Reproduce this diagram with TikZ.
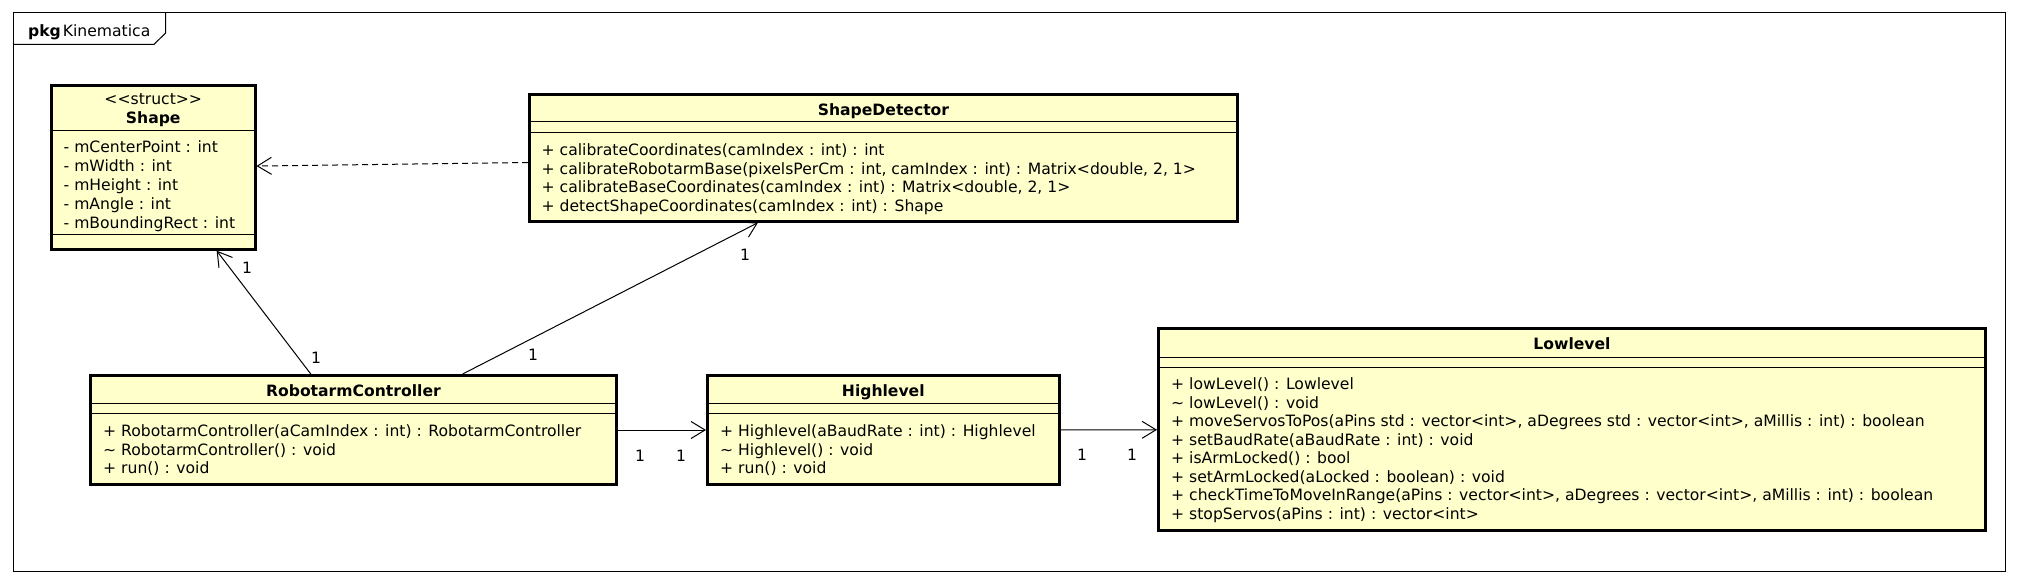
\documentclass[tikz,border=0pt]{standalone}
\usepackage{fontspec}
\setmainfont{DejaVu Sans}
\usetikzlibrary{arrows.meta}
\definecolor{umlfill}{RGB}{255,255,204}
\newcommand\umlsize{\fontsize{15.6pt}{18pt}\selectfont}
\begin{document}
\begin{tikzpicture}[x=1pt,y=-1pt,
  every node/.style={font=\umlsize, inner sep=0pt},
  cls/.style={draw=black, line width=3pt, fill=umlfill, rectangle, inner sep=0pt},
  sepline/.style={line width=1pt, black},
  member/.style={anchor=base west},
  clstitle/.style={anchor=base, font=\umlsize\bfseries},
  stereo/.style={anchor=base},
  mult/.style={anchor=center},
  assoc/.style={line width=1pt, -{Straight Barb[length=14pt,width=17pt]}},
  depend/.style={assoc, dash pattern=on 6pt off 4pt},
  frameline/.style={line width=1pt, black}]
\useasboundingbox (0,0) rectangle (2018,585);
\fill[white] (0,0) rectangle (2018,585);
% package frame
\draw[frameline] (13,13) rectangle (2005,571);
\draw[frameline] (13,44.3) -- (154,44.3) -- (165.7,33) -- (165.7,13);
\node[anchor=base west] (pkglabel) at (28,36.5) {\textbf{pkg}\hspace{2pt}Kinematica};

% Shape
\node[cls, minimum width=203.5pt, minimum height=163.7pt] (shape) at (153.25,167.35) {};
\draw[sepline] (shape.west |- 0,131) -- (shape.east |- 0,131);
\draw[sepline] (shape.west |- 0,235) -- (shape.east |- 0,235);
\node[stereo] (shapeS) at (153.25,104.8) {<\kern0pt<struct>\kern0pt>};
\node[clstitle] (shapeT) at (153.25,123.8) {Shape};
\node[member] (shapeA1) at (63.5,152.5) {- mCenterPoint : int};
\node[member] (shapeA2) at (63.5,171.4) {- mWidth : int};
\node[member] (shapeA3) at (63.5,190.3) {- mHeight : int};
\node[member] (shapeA4) at (63.5,209.2) {- mAngle : int};
\node[member] (shapeA5) at (63.5,228.1) {- mBoundingRect : int};

% ShapeDetector
\node[cls, minimum width=708pt, minimum height=126.4pt] (sd) at (883.5,158) {};
\draw[sepline] (sd.west |- 0,122) -- (sd.east |- 0,122);
\draw[sepline] (sd.west |- 0,133) -- (sd.east |- 0,133);
\node[clstitle] (sdT) at (883.5,115.8) {ShapeDetector};
\node[member] (sdM1) at (541.5,155.8) {+ calibrateCoordinates(camIndex : int) : int};
\node[member] (sdM2) at (541.5,174.3) {+ calibrateRobotarmBase(pixelsPerCm : int, camIndex : int) : Matrix<double, 2, 1>};
\node[member] (sdM3) at (541.5,192.8) {+ calibrateBaseCoordinates(camIndex : int) : Matrix<double, 2, 1>};
\node[member] (sdM4) at (541.5,211.3) {+ detectShapeCoordinates(camIndex : int) : Shape};

% RobotarmController
\node[cls, minimum width=525.3pt, minimum height=109pt] (rc) at (353.45,430) {};
\draw[sepline] (rc.west |- 0,403) -- (rc.east |- 0,403);
\draw[sepline] (rc.west |- 0,413) -- (rc.east |- 0,413);
\node[clstitle] (rcT) at (353.45,396.8) {RobotarmController};
\node[member] (rcM1) at (103,436.5) {+ RobotarmController(aCamIndex : int) : RobotarmController};
\node[member] (rcM2) at (103,455) {\textasciitilde{} RobotarmController() : void};
\node[member] (rcM3) at (103,473.5) {+ run() : void};

% Highlevel
\node[cls, minimum width=351.6pt, minimum height=109pt] (hl) at (883.3,430) {};
\draw[sepline] (hl.west |- 0,403) -- (hl.east |- 0,403);
\draw[sepline] (hl.west |- 0,413) -- (hl.east |- 0,413);
\node[clstitle] (hlT) at (883.3,396.8) {Highlevel};
\node[member] (hlM1) at (720,436.5) {+ Highlevel(aBaudRate : int) : Highlevel};
\node[member] (hlM2) at (720,455) {\textasciitilde{} Highlevel() : void};
\node[member] (hlM3) at (720,473.5) {+ run() : void};

% Lowlevel
\node[cls, minimum width=827pt, minimum height=202pt] (ll) at (1572,429.5) {};
\draw[sepline] (ll.west |- 0,357) -- (ll.east |- 0,357);
\draw[sepline] (ll.west |- 0,367) -- (ll.east |- 0,367);
\node[clstitle] (llT) at (1572,349.3) {Lowlevel};
\node[member] (llM1) at (1171,389.8) {+ lowLevel() : Lowlevel};
\node[member] (llM2) at (1171,408.3) {\textasciitilde{} lowLevel() : void};
\node[member] (llM3) at (1171,426.8) {+ moveServosToPos(aPins std : vector<int>, aDegrees std : vector<int>, aMillis : int) : boolean};
\node[member] (llM4) at (1171,445.3) {+ setBaudRate(aBaudRate : int) : void};
\node[member] (llM5) at (1171,463.8) {+ isArmLocked() : bool};
\node[member] (llM6) at (1171,482.3) {+ setArmLocked(aLocked : boolean) : void};
\node[member] (llM7) at (1171,500.8) {+ checkTimeToMoveInRange(aPins : vector<int>, aDegrees : vector<int>, aMillis : int) : boolean};
\node[member] (llM8) at (1171,519.3) {+ stopServos(aPins : int) : vector<int>};

% connectors
\draw[depend] (sd) -- (shape);
\draw[assoc] (rc) -- (shape);
\draw[assoc] (rc) -- (sd);
\draw[assoc] (rc) -- (hl);
\draw[assoc] (hl) -- (ll);

% multiplicities
\node[mult] (m1) at (247,268) {1};
\node[mult] (m2) at (316,358) {1};
\node[mult] (m3) at (745,255) {1};
\node[mult] (m4) at (533,355) {1};
\node[mult] (m5) at (640,456) {1};
\node[mult] (m6) at (681,456) {1};
\node[mult] (m7) at (1082,455) {1};
\node[mult] (m8) at (1132,455) {1};
\end{tikzpicture}
\end{document}
